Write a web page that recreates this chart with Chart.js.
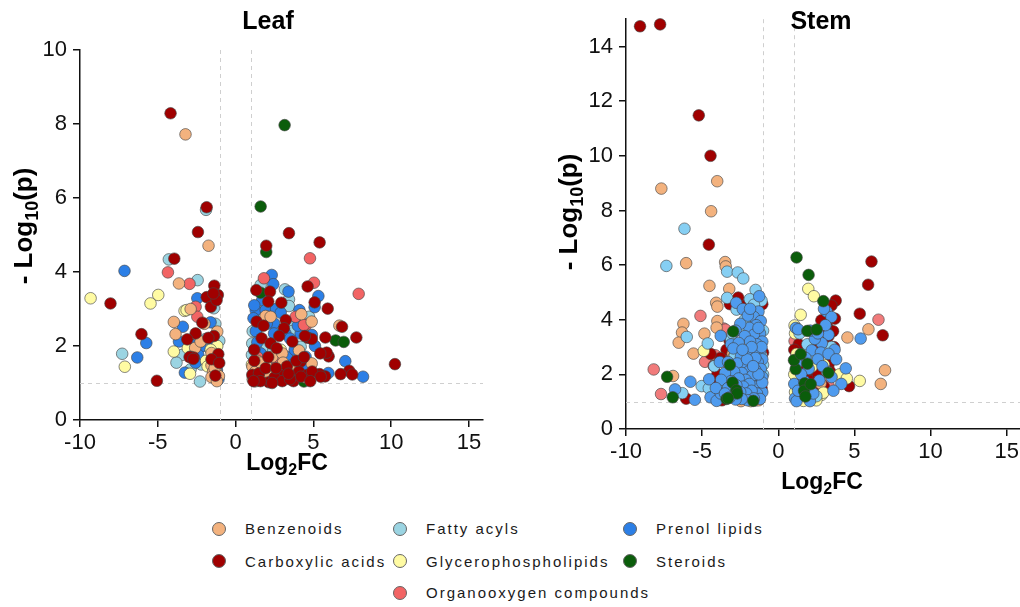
<!DOCTYPE html>
<html>
<head>
<meta charset="utf-8">
<title>Leaf / Stem volcano plots</title>
<script src="https://cdn.jsdelivr.net/npm/chart.js@4.4.1/dist/chart.umd.min.js"></script>
<style>
  body { margin: 0; background: #fff; font-family: "Liberation Sans", Arial, sans-serif; }
  #page { position: relative; width: 1020px; height: 607px; overflow: hidden; }
  #leafBox { position: absolute; left: 0; top: 0; width: 500px; height: 500px; }
  #stemBox { position: absolute; left: 520px; top: 0; width: 507px; height: 500px; }
  #legend { position: absolute; left: 212px; top: 512px; display: grid;
            grid-template-columns: 181px 230px 200px; grid-template-rows: 33px 32px 31px; }
  .item { display: flex; align-items: center; font-size: 15px; letter-spacing: 2px; color: #1a1a1a; white-space: nowrap; }
  .dot { width: 12px; height: 12px; border-radius: 50%; border: 1px solid #666; margin-right: 19px; flex: none; }
</style>
</head>
<body>
<div id="page">
  <div id="leafBox"><canvas id="leafChart"></canvas></div>
  <div id="stemBox"><canvas id="stemChart"></canvas></div>
  <div id="legend"></div>
</div>
<script>
// [log2FC, -log10(p)] per compound class
const categories = ['Benzenoids', 'Carboxylic acids', 'Fatty acyls', 'Glycerophospholipids',
  'Organooxygen compounds', 'Prenol lipids', 'Steroids'];

const leafBenzenoids = [
  [-3.22,7.72],[-1.74,4.71],[-3.64,3.69],[-2.89,3.0],[-2.0,2.6],[-3.97,2.65],[-3.86,2.32],[-1.18,2.39],
  [-1.55,1.81],[-1.14,1.6],[-1.55,1.48],[-1.45,1.3],[-1.24,1.3],[-1.07,1.19],[-1.55,1.16],[-1.2,1.05],
  [-1.35,1.4],[-2.6,1.95],[-2.25,2.12],
  [6.67,2.55],[4.89,1.53],[4.89,2.66],[1.93,2.81],[2.25,2.79],[4.22,2.86],[2.36,1.71],[3.0,1.8],
  [4.07,1.88],[1.08,1.44],[1.1,1.1],[1.82,1.13],[2.47,1.08],[3.32,1.17],[3.65,1.35],[1.4,1.6],
  [2.0,1.45],[2.8,1.35],[3.9,1.2],[1.25,1.3],[2.2,1.25],[1.6,1.55],[1.3,1.05],[3.05,1.55],[4.5,1.15]
];
const leafCarboxylic = [
  [-4.18,8.29],[-8.04,3.15],[-6.05,2.32],[-5.06,1.06],[-3.94,4.36],[-1.86,5.75],[-2.42,5.08],[-1.37,3.63],
  [-1.86,3.32],[-1.59,3.06],[-1.14,3.38],[-1.22,3.24],[-1.43,3.42],[-2.14,2.63],[-2.57,2.34],[-1.39,2.27],
  [-3.11,2.18],[-2.9,1.71],[-2.69,1.69],[-1.11,1.78],[-1.55,1.64],[-1.05,1.54],[-2.96,1.7],[-2.72,1.65],
  [-1.3,1.2],[-1.75,2.22],
  [1.97,4.71],[3.43,5.05],[5.4,4.8],[4.63,3.61],[5.08,3.18],[5.92,3.01],[6.84,2.52],[5.77,2.23],
  [7.76,2.23],[10.24,1.51],[7.3,1.33],[7.5,1.23],[6.75,1.24],[5.98,1.72],[5.85,1.82],[5.44,1.8],
  [5.75,1.18],[5.4,1.24],[4.66,2.22],[4.9,2.19],[1.33,3.51],[2.21,3.47],[2.94,3.17],[2.1,3.2],
  [1.35,2.66],[3.22,2.7],[3.11,2.48],[1.67,2.21],[2.8,2.27],[2.25,2.07],[3.65,2.12],[4.45,2.27],
  [2.64,1.94],[4.18,1.58],[1.07,1.22],[1.5,1.26],[1.93,1.4],[2.89,1.22],[4.07,1.31],[4.61,1.22],
  [4.92,1.31],[5.47,1.17],[2.14,1.02],[3.72,1.05],[4.2,1.17],[1.2,1.6],[1.6,1.05],[2.5,1.15],
  [3.0,1.05],[3.3,1.45],[3.9,1.6],[2.1,1.7],[1.2,1.9],[3.5,1.1],[4.4,1.7],[2.6,1.4],
  [1.8,2.55],[1.15,1.05],[2.35,1.0],[3.4,1.25],[4.8,1.05]
];
const leafFattyAcyls = [
  [-7.29,1.79],[-4.29,4.34],[-2.44,3.78],[-1.9,5.68],[-1.05,2.14],[-1.72,1.97],[-1.93,2.19],[-3.43,1.76],
  [-2.89,1.37],[-2.29,1.04],[-1.4,3.02],[-2.4,2.1],[-1.3,2.6],[-3.8,1.55],[-2.2,1.5],
  [1.61,3.65],[3.17,3.53],[3.43,3.26],[3.43,3.08],[1.5,2.52],[4.72,2.79],[3.75,2.52],[1.07,2.07],
  [1.05,1.76],[3.86,1.76],[4.18,1.98],[1.3,1.45],[2.0,2.0],[2.6,2.4],[1.7,2.9],[4.3,2.45],
  [2.9,1.6],[1.2,1.05],[3.6,2.4],[2.2,3.0],[1.1,2.4],[2.4,1.85]
];
const leafGlycero = [
  [-9.32,3.29],[-7.12,1.44],[-5.47,3.15],[-4.97,3.38],[-3.28,2.95],[-3.15,2.97],[-3.07,1.94],[-1.18,2.0],
  [-3.97,1.85],[-1.9,1.6],[-1.8,1.45],[-2.93,1.25],[-1.6,1.9],
  [2.9,1.9],[1.05,1.5],[1.3,1.35],[2.0,1.1]
];
const leafOrganooxygen = [
  [-4.35,3.99],[-2.96,3.68],[-2.57,3.06],[-2.46,2.79],
  [1.82,3.83],[4.78,4.37],[5.04,3.71],[7.91,3.41],[4.55,2.58],[3.86,2.79],[4.39,2.57],[2.7,1.55],[1.4,1.7]
];
const leafPrenol = [
  [-7.14,4.03],[-6.32,1.69],[-5.74,2.08],[-2.46,3.29],[-1.61,2.64],[-3.39,2.52],[-3.64,2.12],[-2.76,2.02],
  [-2.25,1.97],[-2.4,1.76],[-2.57,1.55],[-3.26,1.28],[-1.67,3.3],[-1.2,1.35],[-1.5,2.2],[-1.1,1.1],
  [2.32,3.92],[2.42,3.67],[3.4,3.47],[1.71,3.24],[5.32,3.35],[5.08,3.05],[7.05,1.59],[8.19,1.17],
  [5.96,1.27],[4.9,2.3],[1.29,2.97],[1.93,2.97],[2.47,2.61],[4.1,2.97],[2.47,2.34],[3.2,2.34],
  [4.18,2.34],[5.1,2.0],[1.61,1.8],[3.3,1.71],[4.5,1.71],[3.65,1.49],[1.3,2.4],[1.2,1.9],
  [2.0,2.6],[1.9,1.3],[2.9,1.5],[4.3,1.45],[3.5,2.2],[2.6,3.0],[1.2,3.1],[4.0,2.55],
  [1.15,2.75],[2.9,2.9],[3.8,1.9],[1.4,2.1],[2.2,1.55]
];
const leafSteroids = [[3.15,7.97],[1.61,5.77],[1.97,4.54],[6.43,2.15],[6.95,2.11],[4.39,1.04],[1.6,3.44]];

const stemBenzenoids = [
  [-7.68,8.8],[-4.01,9.07],[-4.41,7.97],[-6.05,6.07],[-3.49,6.11],[-3.45,5.95],[-4.52,5.24],[-3.22,5.13],
  [-4.08,4.62],[-4.0,4.48],[-6.23,3.85],[-6.32,3.53],[-6.54,3.16],[-4.85,3.49],[-4.0,3.95],[-4.05,3.71],
  [-5.57,2.76],[-6.91,1.94],[-3.0,2.75],[-1.3,1.05],[-2.45,1.02],
  [5.92,3.65],[4.54,3.35],[7.01,2.15],[6.73,1.65],[2.78,1.67],[1.9,1.2],[2.3,1.3]
];
const stemCarboxylic = [
  [-9.08,14.74],[-7.76,14.81],[-5.22,11.48],[-4.45,10.0],[-4.56,6.75],[-2.63,4.81],[-3.18,4.57],[-2.1,4.54],
  [-1.05,4.57],[-4.24,2.31],[-3.2,3.24],[-6.05,1.11],[-3.4,2.9],[-2.9,2.25],[-3.8,2.6],[-4.1,1.75],
  [-3.5,1.2],[-2.6,1.2],[-1.1,1.5],[-3.0,1.6],[-4.0,2.0],[-1.0,2.8],[-2.3,1.7],[-3.3,1.9],
  [-4.45,2.75],[-3.7,1.05],
  [3.77,4.7],[3.49,4.52],[6.12,6.13],[5.9,5.28],[5.35,4.22],[6.86,3.43],[4.65,1.57],[3.22,3.73],
  [3.6,3.58],[3.3,3.4],[1.35,3.1],[1.05,2.9],[2.2,2.65],[3.3,2.35],[2.83,3.98],[3.11,3.67],
  [3.72,4.04],[2.34,2.88],[3.66,3.0],[2.78,2.04],[1.91,2.04],[2.2,1.76],[2.6,2.0],[1.4,2.2],
  [3.0,1.55],[2.4,1.45],[1.2,1.85],[3.4,2.1]
];
const stemFattyAcyls = [
  [-6.16,7.33],[-7.35,5.97],[-3.36,5.76],[-2.66,5.73],[-2.3,5.51],[-1.49,5.09],[-1.87,4.75],[-3.36,4.8],
  [-2.74,4.37],[-6.01,3.37],[-4.63,3.13],[-3.1,3.28],[-5.03,1.57],[-4.56,1.49],[-6.3,1.31],[-1.1,4.7],
  [-1.6,4.55],[-2.2,4.0],[-1.0,3.6],[-1.35,3.35],[-2.4,3.6],[-1.1,2.7],[-2.6,3.0],[-3.0,3.5],
  [-1.8,2.2],[-1.0,2.35],[-2.85,2.7],[-3.2,2.2],[-1.25,1.45],[-2.2,1.25],[-3.6,1.6],[-4.2,2.3],[-1.0,2.0],
  [1.4,3.5],[2.1,2.7],[3.5,3.0],[1.9,3.1],[2.5,1.2],[3.2,2.1],[1.6,1.5]
];
const stemGlycero = [
  [-4.89,2.86],[-2.92,2.64],[-1.8,1.02],[-3.2,1.4],
  [1.97,5.13],[2.34,4.86],[1.47,4.18],[1.07,3.79],[1.05,2.0],[2.2,2.28],[4.4,1.83],[5.35,1.76],
  [4.03,2.0],[4.5,1.85],[2.85,1.25],[2.96,1.33],[1.65,1.03],[1.1,3.5],[1.2,2.75],[1.1,1.35],[2.5,1.05],[3.0,2.35]
];
const stemOrganooxygen = [
  [-5.11,4.14],[-3.6,3.68],[-4.81,2.46],[-4.15,2.7],[-8.18,2.18],[-7.7,1.28],[-3.47,3.64],[-3.36,2.58],
  [-2.26,2.4],[-2.7,1.13],[-1.82,3.25],[-2.0,3.6],[-3.05,1.9],[-3.9,1.6],[-2.2,1.15],[-1.5,1.05],
  [6.58,4.0],[1.07,3.22],[2.7,1.85],[3.3,1.6],[1.3,2.55]
];
const stemPrenol = [
  [-1.25,4.86],[-2.76,4.62],[-2.33,4.39],[-3.78,3.41],[-3.1,3.1],[-3.84,2.45],[-5.77,1.73],[-4.54,1.82],
  [-6.78,1.45],[-5.48,1.07],[-4.45,1.16],[-4.05,1.03],[-3.78,1.3],
  [-1.3,4.3],[-1.6,4.1],[-2.0,4.15],[-1.15,3.95],[-1.45,3.8],[-1.9,3.7],[-2.5,3.85],[-2.8,3.6],
  [-1.2,3.5],[-1.6,3.45],[-2.2,3.4],[-1.05,3.2],[-1.4,3.1],[-1.85,3.2],[-2.6,3.15],[-2.95,2.95],
  [-1.2,2.85],[-1.6,2.75],[-2.1,2.8],[-2.45,2.65],[-1.05,2.55],[-1.35,2.45],[-1.8,2.5],[-2.2,2.35],
  [-2.7,2.4],[-3.3,2.45],[-1.15,2.2],[-1.5,2.15],[-1.95,2.1],[-2.4,2.05],[-2.9,2.1],[-3.5,2.05],
  [-1.05,1.9],[-1.35,1.85],[-1.7,1.95],[-2.15,1.8],[-2.6,1.85],[-3.1,1.75],[-3.75,1.8],[-1.2,1.6],
  [-1.55,1.55],[-1.9,1.65],[-2.3,1.55],[-2.75,1.6],[-3.3,1.5],[-4.1,1.5],[-1.05,1.35],[-1.4,1.3],
  [-1.75,1.4],[-2.1,1.3],[-2.5,1.35],[-2.95,1.25],[-3.5,1.3],[-1.2,1.1],[-1.6,1.12],[-2.0,1.05],
  [-2.4,1.1],[-2.8,1.08],[-3.2,1.15],[-1.05,1.7],[-1.3,2.0],[-1.5,2.6],[-1.1,3.0],[-1.75,3.0],
  [-2.05,2.55],[-1.65,2.3],[-2.35,2.9],[-1.3,3.7],[-1.85,4.4],
  [1.15,3.7],[5.41,3.31],[3.18,4.3],[3.49,4.1],[3.3,3.45],[2.86,3.14],[2.4,3.3],[2.2,2.88],
  [2.8,2.8],[3.7,2.9],[3.3,2.75],[1.79,2.6],[2.6,2.55],[3.8,2.55],[4.43,2.22],[1.05,1.65],
  [1.7,1.75],[2.7,1.78],[3.5,1.9],[4.14,1.65],[3.62,1.4],[2.08,1.02],[1.1,1.12],[1.2,1.02],
  [1.3,3.65],[2.1,3.6],[3.0,4.4],[2.0,2.2],[1.3,1.4],[2.3,1.3],[2.9,2.3],[1.5,2.0],
  [3.1,3.8],[2.6,3.5],[1.2,2.4]
];
const stemSteroids = [
  [-7.3,1.91],[-6.93,1.16],[-3.18,2.35],[-3.0,1.7],[-2.75,1.42],[-3.4,1.1],[-1.64,1.03],[-2.96,3.57],
  [-2.7,1.3],[-3.3,1.13],
  [1.2,6.28],[1.99,5.64],[2.96,4.68],[1.91,3.59],[2.52,3.64],[3.29,2.06],[1.91,2.39],[1.14,2.19],
  [1.03,2.52],[1.47,2.74],[1.73,1.67],[1.69,1.4],[1.78,1.19],[2.13,1.64]
];

// significance cut-offs shown as dashed guides
const foldCutoffs = [-1, 1];
const pCutoff = 1;
const xTicks = [-10, -5, 0, 5, 10, 15];

const leafSeries = [leafBenzenoids, leafCarboxylic, leafFattyAcyls, leafGlycero, leafOrganooxygen, leafPrenol, leafSteroids];
const stemSeries = [stemBenzenoids, stemCarboxylic, stemFattyAcyls, stemGlycero, stemOrganooxygen, stemPrenol, stemSteroids];

const colors = {
  'Benzenoids': '#F3B27E',
  'Carboxylic acids': '#A00000',
  'Fatty acyls': '#9BD4E2',
  'Glycerophospholipids': '#FFFBA3',
  'Organooxygen compounds': '#F26464',
  'Prenol lipids': '#2C7FE6',
  'Steroids': '#0B5D0B'
};
const stemColors = Object.assign({}, colors, {
  'Fatty acyls': '#86CFF3',
  'Organooxygen compounds': '#F17B7B',
  'Prenol lipids': '#4F9BEE'
});

// which class sits on top (first = topmost)
const leafLayers = ['Carboxylic acids', 'Benzenoids', 'Steroids', 'Organooxygen compounds', 'Glycerophospholipids', 'Prenol lipids', 'Fatty acyls'];
const stemLayers = ['Steroids', 'Prenol lipids', 'Fatty acyls', 'Glycerophospholipids', 'Benzenoids', 'Carboxylic acids', 'Organooxygen compounds'];

const FONT = '"Liberation Sans", Arial, sans-serif';

const guides = {
  id: 'guides',
  beforeDatasetsDraw(chart) {
    const { ctx, chartArea, scales } = chart;
    ctx.save();
    ctx.strokeStyle = '#cfcfcf';
    ctx.lineWidth = 1;
    ctx.setLineDash([4, 4]);
    foldCutoffs.forEach(v => {
      const x = Math.round(scales.x.getPixelForValue(v)) + 0.5;
      ctx.beginPath(); ctx.moveTo(x, chartArea.top); ctx.lineTo(x, chartArea.bottom); ctx.stroke();
    });
    const y = Math.round(scales.y.getPixelForValue(pCutoff)) + 0.5;
    ctx.beginPath(); ctx.moveTo(chartArea.left, y); ctx.lineTo(chartArea.right, y); ctx.stroke();
    ctx.restore();
  }
};

// titles with subscripts, drawn at fixed spots on the canvas
function drawRich(ctx, parts, size) {
  const fonts = parts.map(p => `bold ${p.sub ? Math.round(size * 0.7) : size}px ${FONT}`);
  let total = 0;
  const widths = parts.map((p, i) => { ctx.font = fonts[i]; const w = ctx.measureText(p.t).width; total += w; return w; });
  let x = -total / 2;
  parts.forEach((p, i) => {
    ctx.font = fonts[i];
    ctx.fillText(p.t, x, p.sub ? size * 0.3 : 0);
    x += widths[i];
  });
}
const panelText = {
  id: 'panelText',
  afterDraw(chart, args, opts) {
    const ctx = chart.ctx;
    (opts.items || []).forEach(it => {
      ctx.save();
      ctx.fillStyle = '#000';
      ctx.textAlign = 'left';
      ctx.textBaseline = 'middle';
      ctx.translate(it.x, it.y);
      if (it.rotate) ctx.rotate(it.rotate);
      drawRich(ctx, it.parts, it.size);
      ctx.restore();
    });
  }
};

function makeChart(id, series, palette, layers, cfg) {
  const canvas = document.getElementById(id);
  canvas.width = cfg.width;
  canvas.height = 500;
  const datasets = categories.map((name, i) => ({
    label: name,
    data: series[i].map(p => ({ x: p[0], y: p[1] })),
    backgroundColor: palette[name],
    borderColor: 'rgba(70,70,70,0.8)',
    borderWidth: 0.8,
    pointRadius: 5.8,
    order: layers.indexOf(name),
    clip: false
  }));
  const axisStyle = {
    grid: { drawOnChartArea: false, drawTicks: true, tickLength: 7, color: '#111', lineWidth: 1.5 },
    border: { display: true, color: '#111', width: 1.5 }
  };
  return new Chart(canvas, {
    type: 'scatter',
    data: { datasets },
    options: {
      responsive: false,
      animation: false,
      events: [],
      layout: { padding: { top: cfg.top, right: cfg.right, left: 0, bottom: 0 } },
      scales: {
        x: Object.assign({
          type: 'linear', min: -10, max: 15.9,
          afterBuildTicks: s => { s.ticks = xTicks.map(v => ({ value: v })); },
          afterFit: s => { s.height = cfg.xAxisHeight; },
          ticks: { color: '#111', padding: 3, font: { size: 22, family: FONT } }
        }, axisStyle),
        y: Object.assign({
          min: 0, max: cfg.yMax,
          afterFit: s => { s.width = cfg.yAxisWidth; },
          ticks: { stepSize: 2, includeBounds: false, color: '#111', padding: 6, font: { size: 22, family: FONT } }
        }, axisStyle)
      },
      plugins: {
        legend: { display: false },
        tooltip: { enabled: false },
        panelText: { items: cfg.text }
      }
    },
    plugins: [guides, panelText]
  });
}

const yTitle = [{ t: '- Log' }, { t: '10', sub: true }, { t: '(p)' }];
const xTitle = [{ t: 'Log' }, { t: '2', sub: true }, { t: 'FC' }];

makeChart('leafChart', leafSeries, colors, leafLayers, {
  width: 500, top: 50, right: 17, yMax: 10, yAxisWidth: 80, xAxisHeight: 80,
  text: [
    { parts: [{ t: 'Leaf' }], x: 268, y: 22, size: 25 },
    { parts: yTitle, x: 25, y: 226, size: 26, rotate: -Math.PI / 2 },
    { parts: xTitle, x: 287, y: 464, size: 23 }
  ]
});
makeChart('stemChart', stemSeries, stemColors, stemLayers, {
  width: 507, top: 17, right: 0, yMax: 15, yAxisWidth: 106, xAxisHeight: 71,
  text: [
    { parts: [{ t: 'Stem' }], x: 301, y: 22, size: 25 },
    { parts: yTitle, x: 50, y: 212, size: 26, rotate: -Math.PI / 2 },
    { parts: xTitle, x: 302, y: 483, size: 23 }
  ]
});

// shared legend, three columns
const legendColumns = [
  ['Benzenoids', 'Carboxylic acids'],
  ['Fatty acyls', 'Glycerophospholipids', 'Organooxygen compounds'],
  ['Prenol lipids', 'Steroids']
];
const legend = document.getElementById('legend');
legendColumns.forEach((col, c) => {
  col.forEach((name, r) => {
    const item = document.createElement('div');
    item.className = 'item';
    item.style.gridColumn = c + 1;
    item.style.gridRow = r + 1;
    item.innerHTML = `<span class="dot" style="background:${colors[name]}"></span><span>${name}</span>`;
    legend.appendChild(item);
  });
});
</script>
</body>
</html>
